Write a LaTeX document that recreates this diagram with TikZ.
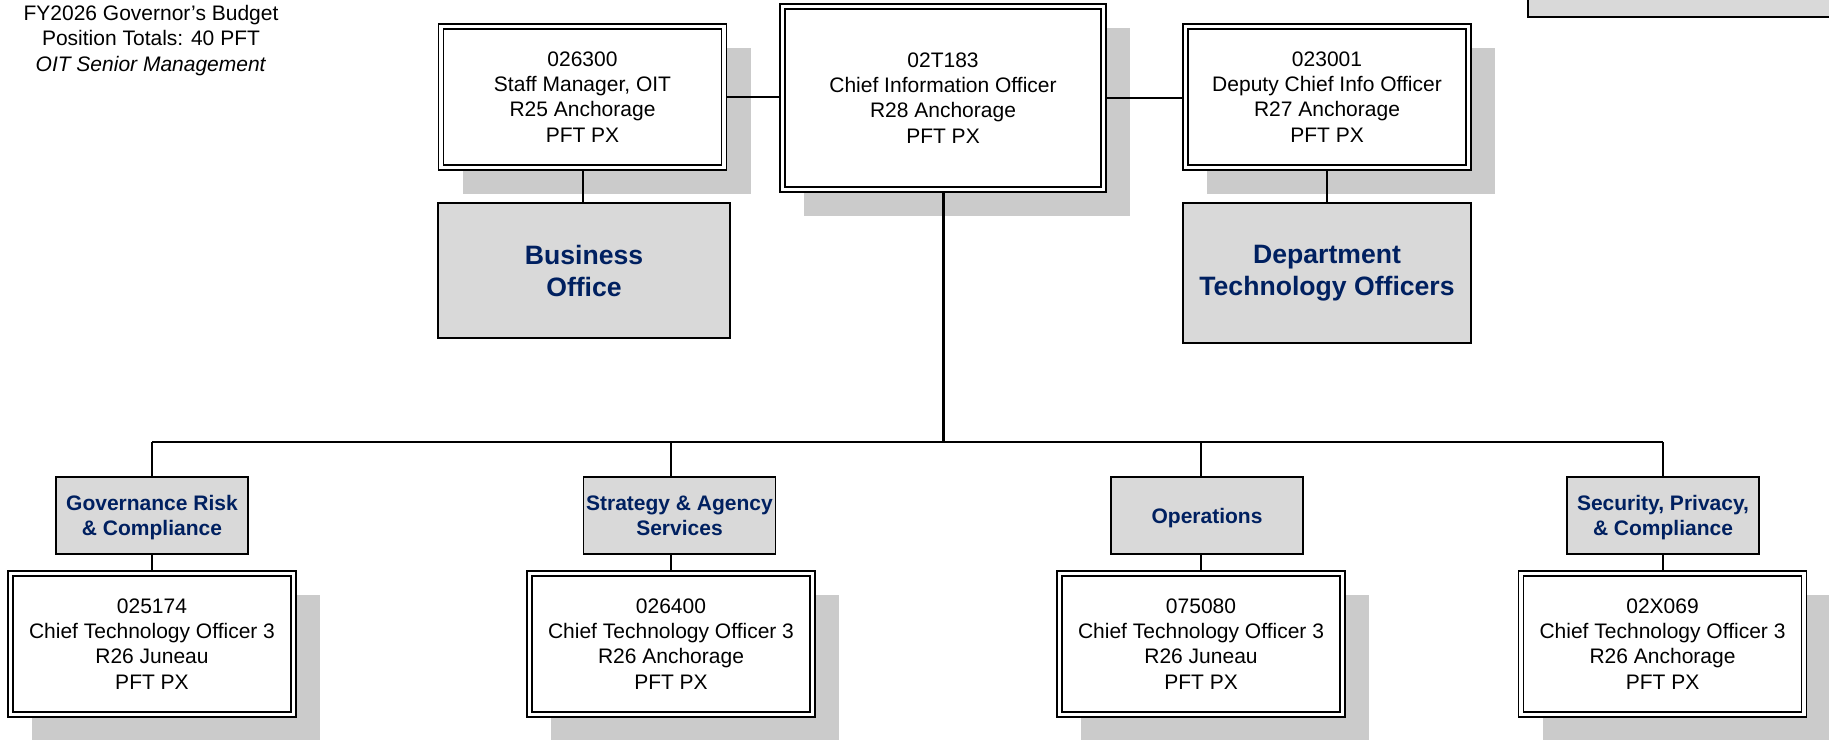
\documentclass[tikz,border=0pt]{standalone}
\usepackage{fontspec}
\setmainfont{Liberation Sans}
\usetikzlibrary{shadows}

\definecolor{boxgrey}{HTML}{D9D9D9}
\definecolor{shadowgrey}{HTML}{CBCBCB}
\definecolor{labelblue}{HTML}{002060}
\newcommand{\posfont}{\fontsize{10.5}{12.6}\selectfont}

\begin{document}
\begin{tikzpicture}[x=0.5pt,y=-0.5pt,
    posbox/.style={draw, line width=0.7pt, fill=white, inner sep=0pt, align=center,
        font=\posfont, minimum width=144pt, minimum height=73pt,
        drop shadow={shadow xshift=12pt, shadow yshift=-12pt, fill=shadowgrey, opacity=1},
        path picture={\draw[line width=0.9pt]
            ([shift={(2.5pt,-2.5pt)}]path picture bounding box.north west) rectangle
            ([shift={(-2.5pt,2.5pt)}]path picture bounding box.south east);}},
    unitbox/.style={draw, line width=0.9pt, fill=boxgrey, inner sep=0pt, align=center,
        text=labelblue, font=\bfseries\fontsize{13.3}{16}\selectfont},
    sectbox/.style={draw, line width=0.9pt, fill=boxgrey, inner sep=0pt, align=center,
        text=labelblue, font=\bfseries\fontsize{10.5}{12.8}\selectfont, text depth=0pt,
        minimum width=96pt, minimum height=38.5pt},
    conn/.style={line width=1pt},
    stem/.style={line width=1.5pt}]
    \path[use as bounding box] (0,0) rectangle (1829,739);
    \clip (0,0) rectangle (1829,739);

    % Kopfzeile:
    \node[anchor=north, align=center, inner sep=0pt, font=\posfont] (title) at (151,5)
        {FY2026 Governor’s Budget\\Position Totals: 40 PFT\\\textit{OIT Senior Management}};
    \node[sectbox, minimum width=186pt] (cutbox) at (1714,-21.5) {}; % abgeschnittene Box oben rechts

    % obere Reihe:
    \node[posbox] (staff) at (582.5,97) {026300\\Staff Manager, OIT\\R25 Anchorage\\PFT PX};
    \node[posbox, minimum width=163pt, minimum height=94pt] (cio) at (943,98)
        {02T183\\Chief Information Officer\\R28 Anchorage\\PFT PX};
    \node[posbox] (deputy) at (1327,97) {023001\\Deputy Chief Info Officer\\R27 Anchorage\\PFT PX};
    \node[unitbox, minimum width=146pt, minimum height=67.5pt] (business) at (584,270.5) {Business\\Office};
    \node[unitbox, minimum width=144pt, minimum height=70pt] (dto) at (1327,273) {Department\\Technology Officers};

    % untere Reihe:
    \node[sectbox] (gov) at (152,515.5) {Governance Risk\\\& Compliance};
    \node[sectbox] (strat) at (679.5,515.5) {Strategy \& Agency\\Services};
    \node[sectbox] (ops) at (1207,515.5) {Operations};
    \node[sectbox] (sec) at (1663,515.5) {Security, Privacy,\\\& Compliance};
    \node[posbox] (govcto) at (152,644) {025174\\Chief Technology Officer 3\\R26 Juneau\\PFT PX};
    \node[posbox] (stratcto) at (671,644) {026400\\Chief Technology Officer 3\\R26 Anchorage\\PFT PX};
    \node[posbox] (opscto) at (1201,644) {075080\\Chief Technology Officer 3\\R26 Juneau\\PFT PX};
    \node[posbox] (seccto) at (1662.5,644) {02X069\\Chief Technology Officer 3\\R26 Anchorage\\PFT PX};

    % Verbindungen:
    \coordinate (bus) at (943,442);
    \draw[conn] (staff.east) -- (staff.east -| cio.west);
    \draw[conn] (cio.east) -- (cio.east -| deputy.west);
    \draw[conn] (staff.south) -- (staff.south |- business.north);
    \draw[conn] (deputy.south) -- (dto.north);
    \draw[stem] (cio.south) -- (bus);
    \draw[conn] (govcto.north |- bus) -- (seccto.north |- bus);
    \foreach \s/\c in {gov/govcto, strat/stratcto, ops/opscto, sec/seccto} {
        \draw[conn] (\c.north |- bus) -- (\c.north |- \s.north);
        \draw[conn] (\c.north |- \s.south) -- (\c.north);
    }
\end{tikzpicture}
\end{document}
